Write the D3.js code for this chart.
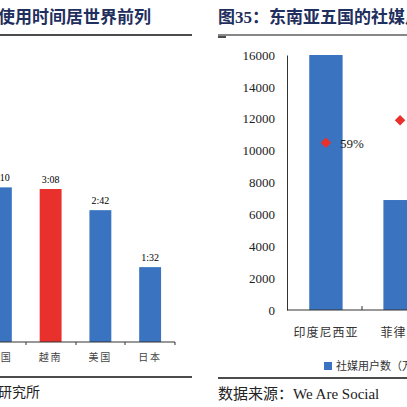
<!DOCTYPE html><html><head><meta charset="utf-8">
<script src="https://d3js.org/d3.v7.min.js"></script>
<style>body{margin:0;background:#fff}text{font-family:"Liberation Serif","Noto Sans CJK SC",serif}</style></head><body>
<svg id="c" width="407" height="407"></svg>
<script>
const leftCats=["中国","越南","美国","日本"];
const leftMinutes=[190,188,162,92];
const leftLabels=["3:10","3:08","2:42","1:32"];
const rightCats=["印度尼西亚","菲律宾"];
const rightUsers=[16000,6900];
const rightPct=[59,67];
const rightTicks=[0,2000,4000,6000,8000,10000,12000,14000,16000];

const svg=d3.select("#c");
const navy="#1f2f5e",blue="#3a73bf",red="#e8302c";
// Left panel
svg.append("text").attr("x",-2).attr("y",23).attr("font-size",17).attr("font-weight","bold").attr("fill",navy).attr("font-family","Noto Sans CJK SC").text("使用时间居世界前列");
svg.append("line").attr("x1",0).attr("x2",192).attr("y1",35).attr("y2",35).attr("stroke","#111").attr("stroke-width",1.5);
const xl=d3.scaleBand().domain(leftCats).range([-24,175]).paddingInner(0.56).paddingOuter(0.28);
const yl=d3.scaleLinear().domain([0,188]).range([342,189]);
const gl=svg.append("g");
gl.selectAll("rect").data(leftCats).join("rect").attr("x",d=>xl(d)).attr("width",xl.bandwidth())
 .attr("y",(d,i)=>yl(leftMinutes[i])).attr("height",(d,i)=>342-yl(leftMinutes[i])).attr("fill",(d,i)=>i==1?red:blue);
gl.selectAll("text.v").data(leftCats).join("text").attr("x",d=>xl(d)+xl.bandwidth()/2).attr("y",(d,i)=>yl(leftMinutes[i])-6)
 .attr("text-anchor","middle").attr("font-size",10).text((d,i)=>leftLabels[i]);
gl.append("line").attr("x1",0).attr("x2",175).attr("y1",342).attr("y2",342).attr("stroke","#333");
[26,76,125,175].forEach(x=>gl.append("line").attr("x1",x).attr("x2",x).attr("y1",342).attr("y2",345).attr("stroke","#333"));
gl.selectAll("text.c").data(leftCats).join("text").attr("x",d=>xl(d)+xl.bandwidth()/2).attr("y",361).attr("text-anchor","middle")
 .attr("font-size",10).attr("fill","#444").attr("font-family","Noto Sans CJK SC").attr("letter-spacing",2).text(d=>d);
svg.append("line").attr("x1",0).attr("x2",192).attr("y1",377).attr("y2",377).attr("stroke","#111").attr("stroke-width",1.5);
svg.append("text").attr("x",-2).attr("y",397).attr("font-size",14).attr("font-family","Noto Sans CJK SC").attr("fill","#222").text("研究所");

// Right panel
svg.append("text").attr("x",218).attr("y",23).attr("font-size",17).attr("font-weight","bold").attr("fill",navy).attr("font-family","Noto Sans CJK SC").text("图35：东南亚五国的社媒用户");
svg.append("line").attr("x1",218).attr("x2",407).attr("y1",35).attr("y2",35).attr("stroke","#111").attr("stroke-width",1);
svg.append("line").attr("x1",218).attr("x2",226).attr("y1",37).attr("y2",37).attr("stroke","#111").attr("stroke-width",1.5);
const yr=d3.scaleLinear().domain([0,16000]).range([310,55]);
const yp=d3.scaleLinear().domain([0,90]).range([310,55]);
const xr=d3.scaleBand().domain(rightCats).range([287,439]).paddingInner(0.55).paddingOuter(0.3);
const gr=svg.append("g");
gr.append("g").attr("transform","translate(287,0)").call(d3.axisLeft(yr).tickValues(rightTicks).tickSize(0).tickPadding(12).tickFormat(d3.format("d")))
 .call(g=>{g.select(".domain").attr("stroke","#333");g.selectAll("text").attr("font-size",13).attr("font-family","Liberation Serif").attr("fill","#222")});
gr.selectAll("rect").data(rightCats).join("rect").attr("x",d=>xr(d)).attr("width",xr.bandwidth())
 .attr("y",(d,i)=>yr(rightUsers[i])).attr("height",(d,i)=>310-yr(rightUsers[i])).attr("fill",blue);
gr.append("line").attr("x1",287).attr("x2",407).attr("y1",310).attr("y2",310).attr("stroke","#333");
gr.append("line").attr("x1",362).attr("x2",362).attr("y1",306).attr("y2",310).attr("stroke","#333");
gr.selectAll("path.d").data(rightCats).join("path").attr("d",d3.symbol(d3.symbolDiamond2,70))
 .attr("transform",(d,i)=>`translate(${xr(d)+xr.bandwidth()/2},${yp(rightPct[i])})`).attr("fill",red);
gr.append("text").attr("x",340).attr("y",148).attr("font-size",13).attr("font-family","Liberation Sans").attr("fill","#222").text(rightPct[0]+"%");
gr.selectAll("text.c").data(rightCats).join("text").attr("x",d=>xr(d)+xr.bandwidth()/2).attr("y",337).attr("text-anchor","middle")
 .attr("font-size",12).attr("fill","#333").attr("font-family","Noto Sans CJK SC").attr("letter-spacing",1).text(d=>d);
gr.append("rect").attr("x",324).attr("y",362).attr("width",8).attr("height",8).attr("fill",blue);
gr.append("text").attr("x",336).attr("y",370).attr("font-size",11).attr("fill","#333").attr("font-family","Noto Sans CJK SC").text("社媒用户数（万）");
svg.append("line").attr("x1",218).attr("x2",407).attr("y1",378).attr("y2",378).attr("stroke","#111").attr("stroke-width",1.5);
svg.append("text").attr("x",218).attr("y",399).attr("font-size",15).attr("fill","#222").attr("font-family","Noto Sans CJK SC").text("数据来源：")
 .append("tspan").attr("font-family","Liberation Serif").text("We Are Social");
</script></body></html>
